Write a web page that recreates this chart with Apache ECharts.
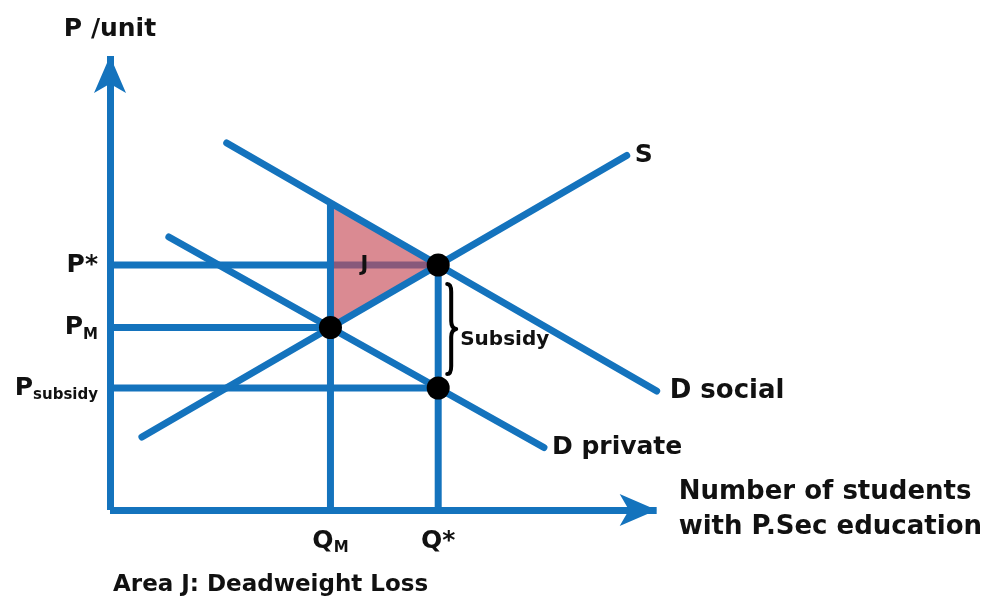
<!DOCTYPE html>
<html>
<head>
<meta charset="utf-8">
<script src="https://cdn.jsdelivr.net/npm/echarts@6/dist/echarts.min.js"></script>
<style>
  html, body { margin: 0; padding: 0; background: #ffffff; }
  #chart { width: 985px; height: 601px; }
</style>
</head>
<body>
<div id="chart"></div>
<script>
// Straight-line curves: [quantity, price] end points
const supplyS = [[3.2, 7.3], [51.8, 35.45]];
const demandSocial = [[11.7, 36.7], [54.8, 11.9]];
const demandPrivate = [[5.9, 27.3], [43.5, 6.25]];
const curveNames = ['S', 'D social', 'D private'];

// Marked quantities and prices
const quantityTicks = [22.1, 32.9];            // Q_M, Q*
const quantityTickLabels = ['{q|Q}{sub|M}', '{q|Q*}'];
const priceTicks = [12.2, 18.25, 24.5];         // P_subsidy, P_M, P*
const priceTickLabels = ['{p|P}{sub|subsidy}', '{p|P}{sub|M}', '{p|P*}'];
const socialPriceAtQM = 30.7;                   // D social evaluated at Q_M

const [QM, QStar] = quantityTicks;
const [PSub, PM, PStar] = priceTicks;

const BLUE = '#1473bd';
const INK = '#111111';
const FONT = '"DejaVu Sans", Verdana, sans-serif';

function segment(data, z, extra) {
  return Object.assign({
    type: 'line',
    data: data,
    symbol: 'none',
    silent: true,
    clip: false,
    animation: false,
    z: z,
    lineStyle: { color: BLUE, width: 7, cap: 'butt' }
  }, extra || {});
}

function curve(points, name, distance, size) {
  return segment(points, 4, {
    name: name,
    lineStyle: { color: BLUE, width: 7, cap: 'round' },
    endLabel: {
      show: true,
      formatter: name,
      distance: distance,
      fontSize: size,
      fontWeight: 'bold',
      color: INK,
      fontFamily: FONT
    }
  });
}

const deadweightTriangle = [[QM, socialPriceAtQM], [QStar, PStar], [QM, PM]];

const subRich = (size) => ({
  fontSize: size, fontWeight: 'bold', color: INK, fontFamily: FONT,
  lineHeight: size, verticalAlign: 'bottom'
});
const bigRich = { fontSize: 25, fontWeight: 'bold', color: INK, fontFamily: FONT, lineHeight: 30 };

const axisLine = {
  show: true,
  onZero: false,
  symbol: ['none', 'arrow'],
  symbolSize: [24, 37],
  lineStyle: { color: BLUE, width: 7, cap: 'butt' }
};

const chart = echarts.init(document.getElementById('chart'), null, { renderer: 'canvas' });

chart.setOption({
  animation: false,
  backgroundColor: '#ffffff',
  title: {
    text: 'Area J: Deadweight Loss',
    left: 113,
    top: 574,
    padding: 0,
    textStyle: { fontSize: 23, fontWeight: 'bold', color: INK, fontFamily: FONT }
  },
  grid: { left: 110, top: 56, width: 548, height: 454, containLabel: false },
  xAxis: {
    type: 'value',
    min: 0,
    max: 54.8,
    splitLine: { show: false },
    axisTick: { show: false },
    axisLine: axisLine,
    axisLabel: {
      customValues: quantityTicks,
      margin: 16,
      formatter: (v) => quantityTickLabels[quantityTicks.indexOf(v)] || '',
      rich: { q: bigRich, sub: subRich(15) }
    },
    name: 'Number of students\nwith P.Sec education',
    nameLocation: 'end',
    nameGap: 22,
    nameTextStyle: {
      fontSize: 26, fontWeight: 'bold', color: INK, fontFamily: FONT,
      lineHeight: 35, align: 'left', verticalAlign: 'middle', padding: [6, 0, 0, 0]
    }
  },
  yAxis: {
    type: 'value',
    min: 0,
    max: 45.4,
    splitLine: { show: false },
    axisTick: { show: false },
    axisLine: axisLine,
    axisLabel: {
      customValues: priceTicks,
      margin: 12,
      formatter: (v) => priceTickLabels[priceTicks.indexOf(v)] || '',
      rich: { p: bigRich, sub: subRich(15) }
    },
    name: 'P /unit',
    nameLocation: 'end',
    nameGap: 14,
    nameTextStyle: { fontSize: 25, fontWeight: 'bold', color: INK, fontFamily: FONT }
  },
  series: [
    // P* guide sits beneath the shaded area
    segment([[0, PStar], [QStar, PStar]], 1),
    {
      type: 'custom',
      silent: true,
      clip: false,
      z: 2,
      data: [[QM, PM]],
      renderItem: function (params, api) {
        const pts = deadweightTriangle.map((p) => api.coord(p));
        const cx = (deadweightTriangle[0][0] + deadweightTriangle[1][0] + deadweightTriangle[2][0]) / 3;
        const cy = (deadweightTriangle[0][1] + deadweightTriangle[1][1] + deadweightTriangle[2][1]) / 3;
        const c = api.coord([cx, cy]);
        return {
          type: 'group',
          children: [
            { type: 'polygon', shape: { points: pts }, style: { fill: 'rgba(198,75,88,0.65)' } },
            {
              type: 'text', x: c[0] - 2, y: c[1],
              style: {
                text: 'J', fontSize: 21, fontWeight: 'bold', fill: INK, fontFamily: FONT,
                align: 'center', verticalAlign: 'middle'
              }
            }
          ]
        };
      }
    },
    segment([[0, PM], [QM, PM]], 3),
    segment([[0, PSub], [QStar, PSub]], 3),
    segment([[QM, 0], [QM, socialPriceAtQM]], 3),
    segment([[QStar, 0], [QStar, PStar]], 3),
    curve(supplyS, curveNames[0], 8, 25),
    curve(demandSocial, curveNames[1], 13, 26),
    curve(demandPrivate, curveNames[2], 8, 25),
    // Brace marking the subsidy gap between P* and P_subsidy
    {
      type: 'custom',
      silent: true,
      clip: false,
      z: 5,
      data: [[QStar, PSub]],
      renderItem: function (params, api) {
        const top = api.coord([QStar, PStar]);
        const bot = api.coord([QStar, PSub]);
        const bx = top[0] + 13;
        const y0 = top[1] + 19;
        const y1 = bot[1] - 14;
        const mid = (y0 + y1) / 2;
        const d = [
          'M', bx - 4, y0,
          'Q', bx, y0, bx, y0 + 8,
          'L', bx, mid - 8,
          'Q', bx, mid - 1, bx + 5, mid,
          'Q', bx, mid + 1, bx, mid + 8,
          'L', bx, y1 - 8,
          'Q', bx, y1, bx - 4, y1
        ].join(' ');
        return {
          type: 'group',
          children: [
            {
              type: 'path',
              shape: { pathData: d },
              style: { stroke: '#000', lineWidth: 4, fill: null, lineCap: 'round', lineJoin: 'round' }
            },
            {
              type: 'text', x: bx + 9, y: mid + 11,
              style: {
                text: 'Subsidy', fontSize: 20, fontWeight: 'bold', fill: INK, fontFamily: FONT,
                align: 'left', verticalAlign: 'middle'
              }
            }
          ]
        };
      }
    },
    {
      type: 'scatter',
      silent: true,
      clip: false,
      symbol: 'circle',
      symbolSize: 23,
      itemStyle: { color: '#000000', opacity: 1 },
      data: [[QStar, PStar], [QM, PM], [QStar, PSub]],
      z: 6
    }
  ]
});
</script>
</body>
</html>
